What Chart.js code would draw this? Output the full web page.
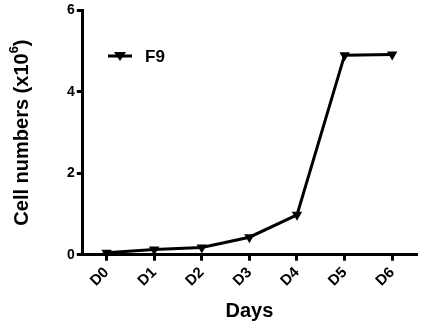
<!DOCTYPE html>
<html><head><meta charset="utf-8">
<script src="https://cdn.jsdelivr.net/npm/chart.js@4"></script>
<style>html,body{margin:0;padding:0;background:#fff}#w{width:422px;height:331px}</style>
</head><body><div id="w"><canvas id="c"></canvas></div>
<script>
const categories = ["D0","D1","D2","D3","D4","D5","D6"];
const seriesLabel = "F9";
const f9Values = [0.05, 0.13, 0.18, 0.43, 0.98, 4.9, 4.92];
const yTicks = [0, 2, 4, 6];
const xTitle = "Days";
const yTitleMain = "Cell numbers (x10";
const yTitleSup = "6";
const yTitleEnd = ")";
const FONT = "'Liberation Sans', Arial, sans-serif";

const customDraw = {
  id: 'customDraw',
  afterDraw(chart) {
    const ctx = chart.ctx, ca = chart.chartArea;
    ctx.save();
    const cx = 22, cy = (ca.top + ca.bottom) / 2;
    ctx.translate(cx, cy);
    ctx.rotate(-Math.PI / 2);
    ctx.fillStyle = '#000';
    ctx.textBaseline = 'middle';
    const fMain = "bold 20px " + FONT, fSup = "bold 13px " + FONT;
    ctx.font = fMain;
    const w1 = ctx.measureText(yTitleMain).width, w3 = ctx.measureText(yTitleEnd).width;
    ctx.font = fSup;
    const w2 = ctx.measureText(yTitleSup).width;
    let x = -(w1 + w2 + w3) / 2;
    ctx.font = fMain; ctx.textAlign = 'left';
    ctx.fillText(yTitleMain, x, 0); x += w1;
    ctx.font = fSup; ctx.fillText(yTitleSup, x, -8); x += w2;
    ctx.font = fMain; ctx.fillText(yTitleEnd, x, 0);
    ctx.restore();
    const ds = chart.data.datasets[0];
    ctx.save();
    const lx = 108, ly = 56;
    ctx.strokeStyle = '#000'; ctx.lineWidth = 3;
    ctx.beginPath(); ctx.moveTo(lx, ly); ctx.lineTo(lx + 24, ly); ctx.stroke();
    ctx.fillStyle = '#000';
    ctx.beginPath();
    ctx.moveTo(lx + 12 - 6, ly - 4); ctx.lineTo(lx + 12 + 6, ly - 4); ctx.lineTo(lx + 12, ly + 5); ctx.closePath(); ctx.fill();
    ctx.font = "bold 17px " + FONT; ctx.textBaseline = 'middle'; ctx.textAlign = 'left';
    ctx.fillText(ds.label, lx + 37, ly + 1);
    ctx.restore();
  }
};

new Chart(document.getElementById('c'), {
  type: 'line',
  data: {
    labels: categories,
    datasets: [{
      label: seriesLabel,
      data: f9Values,
      borderColor: '#000',
      backgroundColor: '#000',
      borderWidth: 3,
      pointStyle: 'triangle',
      rotation: 180,
      pointRadius: 6,
      pointBackgroundColor: '#000',
      pointBorderWidth: 0,
      tension: 0,
      clip: false
    }]
  },
  options: {
    responsive: true,
    maintainAspectRatio: false,
    animation: false,
    layout: { padding: { left: 65, top: 8, right: 1, bottom: 8 } },
    plugins: { legend: { display: false }, tooltip: { enabled: false } },
    scales: {
      x: {
        type: 'category',
        offset: true,
        afterFit(axis) { axis.paddingRight = 0; },
        grid: { drawOnChartArea: false, drawTicks: true, tickLength: 6, lineWidth: 3, color: '#000' },
        border: { width: 3, color: '#000' },
        ticks: { color: '#000', font: { family: FONT, weight: 'bold', size: 15 }, minRotation: 45, maxRotation: 45, padding: 3 },
        title: { display: true, text: xTitle, color: '#000', font: { family: FONT, weight: 'bold', size: 20 }, padding: { top: 6, bottom: 0 } }
      },
      y: {
        min: 0, max: 6,
        afterBuildTicks(axis) { axis.ticks = yTicks.map(v => ({ value: v })); },
        grid: { drawOnChartArea: false, drawTicks: true, tickLength: 6, lineWidth: 3, color: '#000' },
        border: { width: 3, color: '#000' },
        ticks: { color: '#000', font: { family: FONT, weight: 'bold', size: 14 }, padding: 2 }
      }
    }
  },
  plugins: [customDraw]
});
</script>
</body></html>
